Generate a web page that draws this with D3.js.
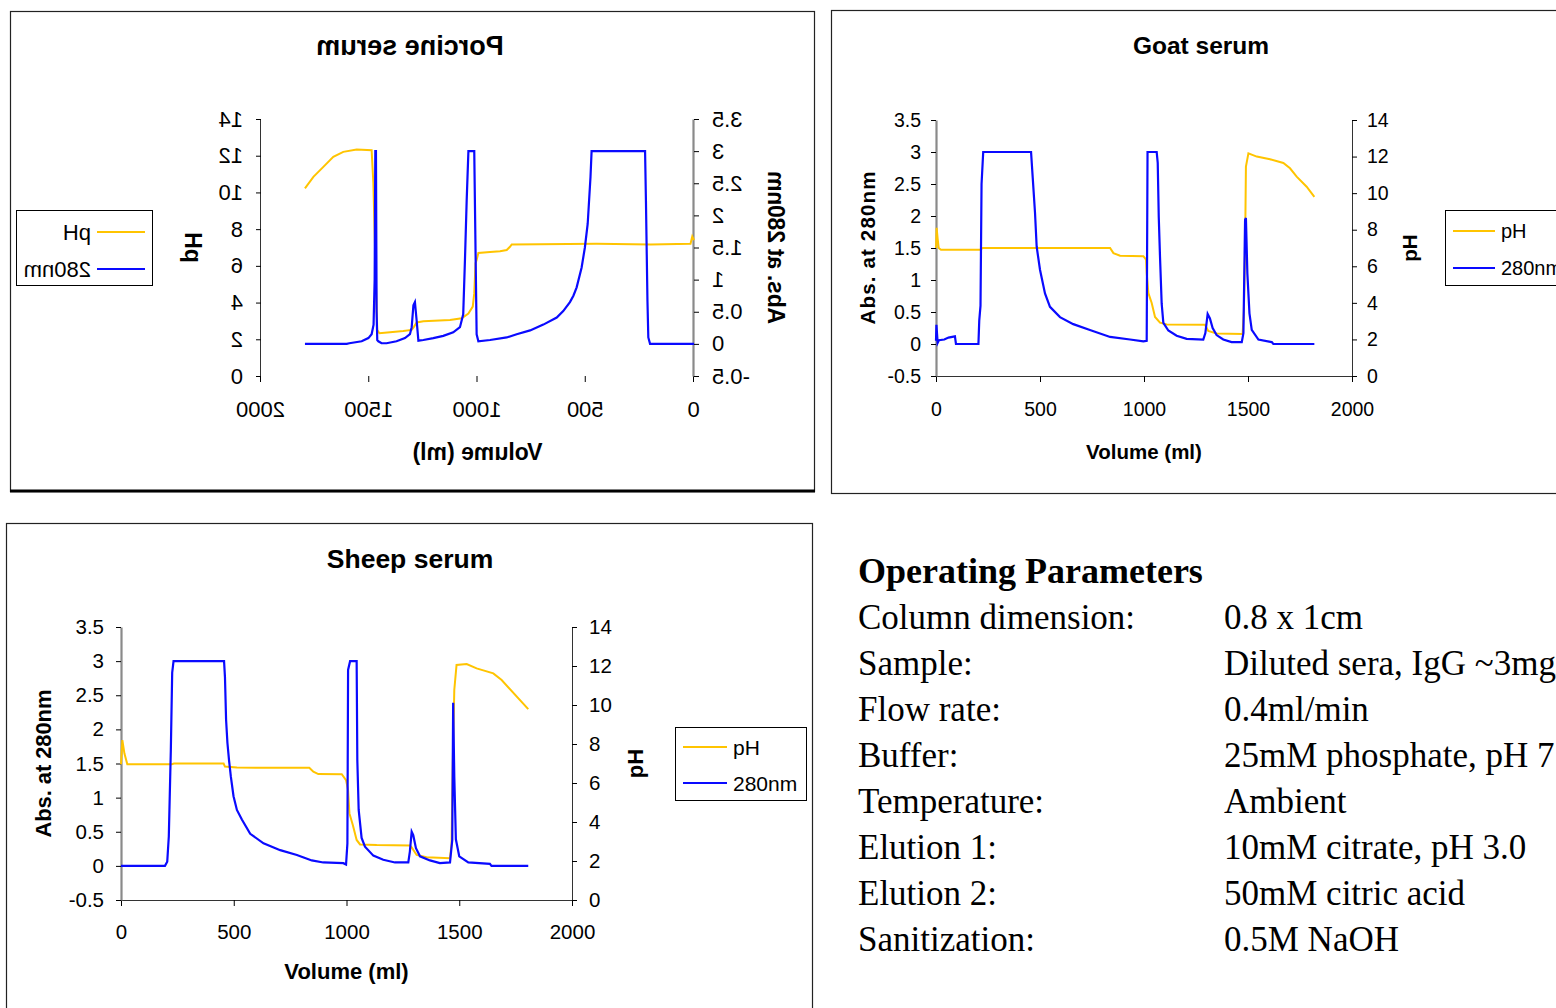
<!DOCTYPE html>
<html>
<head>
<meta charset="utf-8">
<script src="https://cdn.jsdelivr.net/npm/d3@7"></script>
<style>
  body { margin: 0; background: #fff; }
  svg { display: block; }
</style>
</head>
<body>
<svg id="chart" width="1556" height="1008"></svg>
<script>
// tick values shared by the three chromatograms
const volTicks = [0, 500, 1000, 1500, 2000];
const absTicks = [-0.5, 0, 0.5, 1, 1.5, 2, 2.5, 3, 3.5];
const phTicks = [0, 2, 4, 6, 8, 10, 12, 14];
const seriesNames = ["pH", "280nm"];

// [volume ml, Abs 280nm]
const porcineAbs = [[0,0],[203,0],[211,0.1],[215,0.67],[222,2.23],[226,3],[473,3],[478,2.6],[491,1.87],[504,1.5],[519,1.19],[542,0.88],[557,0.75],[573,0.65],[604,0.51],[634,0.41],[696,0.3],[757,0.21],[819,0.15],[865,0.1],[942,0.06],[996,0.04],[1004,0.15],[1010,1.7],[1015,3],[1042,3],[1050,2.23],[1058,1.3],[1066,0.46],[1081,0.26],[1112,0.18],[1158,0.125],[1204,0.09],[1250,0.06],[1273,0.05],[1281,0.36],[1289,0.65],[1296,0.6],[1304,0.26],[1312,0.15],[1335,0.09],[1374,0.04],[1420,0.01],[1443,0.01],[1458,0.04],[1463,0.06],[1466,0.5],[1469,3],[1472,3],[1475,1.0],[1480,0.3],[1489,0.15],[1504,0.09],[1535,0.04],[1592,0.01],[1604,0],[1797,0]];
// [volume ml, pH]
const porcinePH = [[0,7.4],[8,7.6],[16,7.2],[200,7.17],[450,7.2],[842,7.17],[850,7.04],[865,6.86],[896,6.8],[942,6.75],[996,6.7],[1004,6.32],[1009,6.15],[1015,4.5],[1022,3.78],[1042,3.4],[1073,3.14],[1127,3.05],[1250,2.98],[1281,2.92],[1293,2.69],[1304,2.51],[1343,2.45],[1404,2.38],[1453,2.33],[1463,2.51],[1469,5.05],[1481,10.5],[1489,12.3],[1558,12.34],[1620,12.21],[1666,11.94],[1712,11.39],[1758,10.85],[1797,10.22]];

const goatAbs = [[0,0.05],[2,0.3],[8,0.02],[14,0.06],[40,0.07],[60,0.1],[91,0.12],[96,0],[204,0],[208,0.37],[214,0.6],[219,2.5],[227,3],[457,3],[465,2.6],[476,2.05],[484,1.52],[500,1.16],[524,0.79],[548,0.58],[596,0.42],[660,0.31],[740,0.22],[837,0.11],[933,0.07],[997,0.04],[1013,0.05],[1017,3],[1061,3],[1066,2.83],[1071,1.98],[1077,1.36],[1085,0.63],[1093,0.33],[1117,0.21],[1157,0.13],[1205,0.08],[1285,0.07],[1295,0.17],[1306,0.47],[1317,0.4],[1330,0.25],[1349,0.14],[1381,0.07],[1421,0.03],[1470,0.03],[1478,0.17],[1486,1.94],[1490,1.97],[1497,1.1],[1507,0.48],[1518,0.22],[1550,0.07],[1614,0.03],[1622,0],[1819,0]];
const goatPH = [[0,7.0],[3,8.1],[8,7.5],[13,7.0],[24,6.9],[211,6.9],[225,7.0],[837,7.0],[853,6.72],[885,6.58],[997,6.55],[1010,6.36],[1013,5.63],[1021,4.53],[1037,3.99],[1053,3.23],[1077,2.92],[1109,2.82],[1293,2.8],[1309,2.46],[1349,2.33],[1474,2.3],[1480,3.5],[1486,6.9],[1490,11.45],[1502,12.18],[1542,12.0],[1606,11.85],[1670,11.65],[1702,11.36],[1734,10.9],[1782,10.35],[1819,9.8]];

const sheepAbs = [[0,0],[195,0],[205,0.06],[212,0.43],[221,1.7],[227,2.83],[233,3],[457,3],[461,2.77],[466,2.14],[472,1.8],[479,1.55],[487,1.31],[499,1.02],[514,0.82],[536,0.68],[573,0.47],[632,0.33],[706,0.23],[780,0.16],[846,0.08],[897,0.05],[986,0.04],[998,0.02],[1004,0.33],[1007,2.87],[1016,3],[1045,3],[1048,1.55],[1054,0.82],[1067,0.41],[1082,0.28],[1119,0.15],[1163,0.09],[1215,0.05],[1274,0.05],[1281,0.21],[1289,0.5],[1296,0.45],[1308,0.26],[1326,0.14],[1370,0.08],[1414,0.04],[1459,0.05],[1469,0.38],[1473,2.39],[1478,1.31],[1485,0.39],[1500,0.14],[1540,0.05],[1636,0.03],[1643,0],[1806,0]];
const sheepPH = [[0,6.96],[6,8.2],[15,7.52],[28,6.96],[225,6.96],[235,7.0],[455,7.0],[461,6.84],[514,6.79],[835,6.78],[853,6.58],[875,6.46],[979,6.45],[998,6.15],[1007,5.64],[1013,4.44],[1028,3.85],[1045,3.08],[1060,2.85],[1134,2.82],[1281,2.8],[1289,2.7],[1311,2.31],[1355,2.19],[1459,2.14],[1466,2.9],[1471,6.84],[1478,10.77],[1488,12.05],[1533,12.1],[1577,11.88],[1651,11.62],[1688,11.28],[1806,9.79]];

const paramLabels = ["Column dimension:", "Sample:", "Flow rate:", "Buffer:", "Temperature:", "Elution 1:", "Elution 2:", "Sanitization:"];
const paramValues = ["0.8 x 1cm", "Diluted sera, IgG ~3mg/ml", "0.4ml/min", "25mM phosphate, pH 7.0", "Ambient", "10mM citrate, pH 3.0", "50mM citric acid", "0.5M NaOH"];

const SANS = "'Liberation Sans', Arial, sans-serif";
const SERIF = "'Liberation Serif', 'Times New Roman', serif";
const BLUE = "#0a0aff";
const GOLD = "#ffc400";

const svg = d3.select("#chart");

function drawPanel(p) {
  const g = svg.append("g");
  if (p.mirror) g.attr("transform", `translate(${p.mirror},0) scale(-1,1)`);

  g.append("rect")
    .attr("x", p.frame[0] + 0.5).attr("y", p.frame[1] + 0.5)
    .attr("width", p.frame[2]).attr("height", p.frame[3])
    .attr("fill", "#fff").attr("stroke", "#222").attr("stroke-width", 1.2);
  if (p.thickBottom) {
    g.append("line")
      .attr("x1", p.frame[0]).attr("x2", p.frame[0] + p.frame[2] + 1)
      .attr("y1", p.frame[1] + p.frame[3]).attr("y2", p.frame[1] + p.frame[3])
      .attr("stroke", "#000").attr("stroke-width", 3);
  }

  let x = d3.scaleLinear().domain([0, 2000]).range([p.x0, p.x1]);
  let yA = d3.scaleLinear().domain([-0.5, 3.5]).range([p.yBot, p.yTop]);
  let yP = d3.scaleLinear().domain([0, 14]).range([p.yBot, p.yTop]);
  const fmt = d => String(d);

  let xAxis = g.append("g")
    .attr("transform", `translate(0,${p.yBot})`)
    .call(d3.axisBottom(x).tickValues(volTicks).tickFormat(fmt)
      .tickSize(6).tickSizeOuter(0).tickPadding(p.xPad));
  let aAxis = g.append("g")
    .attr("transform", `translate(${p.x0},0)`)
    .call(d3.axisLeft(yA).tickValues(absTicks).tickFormat(fmt)
      .tickSize(5).tickSizeOuter(0).tickPadding(p.yPad));
  let pAxis = g.append("g")
    .attr("transform", `translate(${p.x1},0)`)
    .call(d3.axisRight(yP).tickValues(phTicks).tickFormat(fmt)
      .tickSize(5).tickSizeOuter(0).tickPadding(p.yPad));

  [xAxis, aAxis, pAxis].forEach(a => {
    a.attr("font-family", SANS).attr("font-size", p.tick);
    a.selectAll("text").attr("fill", "#000");
  });
  aAxis.select(".domain").attr("stroke", "#8a8a8a").attr("stroke-width", 2.2);
  pAxis.select(".domain").attr("stroke", "#333");
  xAxis.select(".domain").attr("stroke", "#333");
  if (p.noXLine) xAxis.select(".domain").remove();

  const lineOf = ys => d3.line().x(d => x(d[0])).y(d => ys(d[1]));
  g.append("path").datum(p.ph)
    .attr("d", lineOf(yP))
    .attr("fill", "none").attr("stroke", GOLD).attr("stroke-width", 2);
  g.append("path").datum(p.abs)
    .attr("d", lineOf(yA))
    .attr("fill", "none").attr("stroke", BLUE).attr("stroke-width", 2.2);

  // titles
  g.append("text")
    .attr("x", p.titleX).attr("y", p.titleY)
    .attr("text-anchor", "middle")
    .attr("font-family", SANS).attr("font-weight", "bold").attr("font-size", p.titleSize)
    .text(p.title);
  g.append("text")
    .attr("x", (p.x0 + p.x1) / 2).attr("y", p.xTitleY)
    .attr("text-anchor", "middle")
    .attr("font-family", SANS).attr("font-weight", "bold").attr("font-size", p.axisSize)
    .text("Volume (ml)");
  g.append("text")
    .attr("transform", `translate(${p.absLabelX},${(p.yTop + p.yBot) / 2}) rotate(-90)`)
    .attr("dy", "0.35em")
    .attr("text-anchor", "middle")
    .attr("font-family", SANS).attr("font-weight", "bold").attr("font-size", p.axisSize)
    .attr("textLength", p.absLabelLen).attr("lengthAdjust", "spacing")
    .text("Abs. at 280nm");
  g.append("text")
    .attr("transform", `translate(${p.phLabelX},${(p.yTop + p.yBot) / 2}) rotate(-90)`)
    .attr("dy", "0.35em")
    .attr("text-anchor", "middle")
    .attr("font-family", SANS).attr("font-weight", "bold").attr("font-size", p.axisSize)
    .text("pH");

  // legend
  const L = p.legend;
  const lg = g.append("g");
  lg.append("rect")
    .attr("x", L.x + 0.5).attr("y", L.y + 0.5).attr("width", L.w).attr("height", L.h)
    .attr("fill", "#fff").attr("stroke", "#000").attr("stroke-width", 1);
  [GOLD, BLUE].forEach((c, i) => {
    const yy = L.y + L.row0 + i * L.dy;
    lg.append("line")
      .attr("x1", L.x + 8).attr("x2", L.x + 8 + L.lineLen)
      .attr("y1", yy).attr("y2", yy)
      .attr("stroke", c).attr("stroke-width", 2);
    lg.append("text")
      .attr("x", L.x + 14 + L.lineLen).attr("y", yy)
      .attr("dy", "0.36em")
      .attr("font-family", SANS).attr("font-size", L.size)
      .text(seriesNames[i]);
  });
}

// Porcine serum is laid out normally, then flipped left-right as in the source
drawPanel({
  mirror: 825, frame: [10, 11, 804, 480], thickBottom: true, noXLine: true,
  x0: 131, x1: 564, yTop: 119, yBot: 376,
  abs: porcineAbs, ph: porcinePH,
  title: "Porcine serum", titleX: 415, titleY: 55, titleSize: 27,
  tick: 22, xPad: 19, yPad: 13, axisSize: 23,
  xTitleY: 460, absLabelX: 49, absLabelLen: 153, phLabelX: 632,
  legend: { x: 672, y: 210, w: 136, h: 75, row0: 22, dy: 37, lineLen: 48, size: 22 }
});

drawPanel({
  frame: [831, 10, 800, 483],
  x0: 936, x1: 1352, yTop: 120, yBot: 376,
  abs: goatAbs, ph: goatPH,
  title: "Goat serum", titleX: 1201, titleY: 54, titleSize: 24.5,
  tick: 19.5, xPad: 20, yPad: 10, axisSize: 20.5,
  xTitleY: 459, absLabelX: 868, absLabelLen: 153, phLabelX: 1410,
  legend: { x: 1445, y: 210, w: 160, h: 75, row0: 21, dy: 37, lineLen: 42, size: 20 }
});

drawPanel({
  frame: [6, 523, 806, 500],
  x0: 121, x1: 572, yTop: 627, yBot: 900,
  abs: sheepAbs, ph: sheepPH,
  title: "Sheep serum", titleX: 410, titleY: 568, titleSize: 26.5,
  tick: 20.5, xPad: 18, yPad: 12, axisSize: 22,
  xTitleY: 979, absLabelX: 43, absLabelLen: 148, phLabelX: 635,
  legend: { x: 675, y: 727, w: 131, h: 73, row0: 20, dy: 36, lineLen: 44, size: 21 }
});

// operating parameters table
const tbl = svg.append("g").attr("font-family", SERIF).attr("fill", "#000");
tbl.append("text")
  .attr("x", 858).attr("y", 583)
  .attr("font-size", 36).attr("font-weight", "bold")
  .text("Operating Parameters");
tbl.selectAll("text.lbl").data(paramLabels).enter().append("text")
  .attr("class", "lbl")
  .attr("x", 858).attr("y", (d, i) => 629 + i * 46)
  .attr("font-size", 35)
  .text(d => d);
tbl.selectAll("text.val").data(paramValues).enter().append("text")
  .attr("class", "val")
  .attr("x", 1224).attr("y", (d, i) => 629 + i * 46)
  .attr("font-size", 35)
  .text(d => d);
</script>
</body>
</html>
